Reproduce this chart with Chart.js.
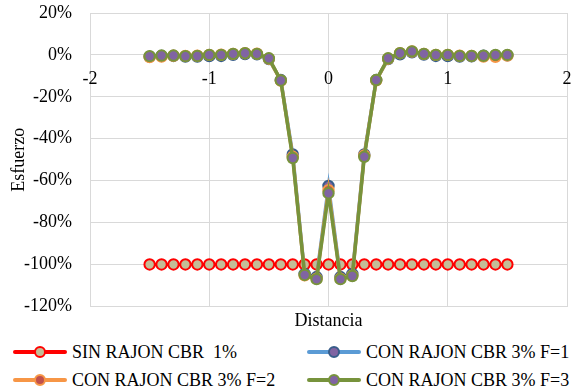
<!DOCTYPE html>
<html lang="es">
<head>
<meta charset="UTF-8">
<title>Esfuerzo vs Distancia</title>
<script src="https://cdn.jsdelivr.net/npm/chart.js"></script>
<style>
    body {
        margin: 0;
        background: #fff;
        font-family: "Liberation Serif", "Times New Roman", serif;
    }
    .wrap { position: relative; width: 576px; height: 392px; }
    .chart-box { position: absolute; left: 0; top: 0; width: 576px; height: 338px; }
    .legend { position: absolute; left: 0; top: 340px; width: 576px; height: 52px; }
    .item {
        position: absolute;
        display: flex;
        align-items: center;
        height: 24px;
        font-size: 18px;
        color: #000;
        white-space: nowrap;
    }
    .sym { position: relative; width: 54px; height: 24px; margin-right: 5px; }
    .sym .ln { position: absolute; left: 0; right: 0; top: 10px; height: 4px; border-radius: 2px; }
    .sym .dot {
        position: absolute; left: 21px; top: 6px;
        width: 8px; height: 8px; border-radius: 50%;
        border: 2px solid;
    }
</style>
</head>
<body>
<div class="wrap">
    <div class="chart-box"><canvas id="grafico" width="576" height="338"></canvas></div>
    <div class="legend" id="leyenda"></div>
</div>
<script>
    // distancia (x) y esfuerzo (%) por serie
    const distancia = [-1.5, -1.4, -1.3, -1.2, -1.1, -1.0, -0.9, -0.8, -0.7, -0.6, -0.5, -0.4, -0.3, -0.2, -0.1, 0,
                       0.1, 0.2, 0.3, 0.4, 0.5, 0.6, 0.7, 0.8, 0.9, 1.0, 1.1, 1.2, 1.3, 1.4, 1.5];
    const sinRajon = [-100, -100, -100, -100, -100, -100, -100, -100, -100, -100, -100, -100, -100, -100, -100, -100,
                      -100, -100, -100, -100, -100, -100, -100, -100, -100, -100, -100, -100, -100, -100, -100];
    const conRajonF1 = [-0.8, -0.5, -0.5, -0.8, -0.8, -0.6, -0.5, 0, 0.4, 0.3, -2, -12, -47.5, -104.5, -106, -62.5,
                        -106, -104.5, -47.5, -12, -2, 0.3, 1.2, 0.2, -0.5, -0.6, -0.8, -0.7, -0.4, -0.2, -0.2];
    const conRajonF2 = [-1, -0.8, -0.4, -0.5, -0.4, 0, 0.1, 0.5, 0.8, 0.6, -1.8, -12.3, -48.6, -105.2, -106.8, -64.5,
                        -106.8, -105.3, -48, -12.2, -1.8, 0.8, 1.6, 0.5, 0, 0, -0.4, -0.5, -0.8, -0.9, -0.3];
    const conRajonF3 = [-0.6, -0.3, -0.3, -0.6, -0.5, 0, 0, 0.5, 0.8, 0.5, -1.6, -12.2, -49.2, -105, -107, -66,
                        -107, -105.5, -48.6, -12, -1.6, 0.8, 1.7, 0.5, 0, 0, -0.5, -0.5, -0.4, 0, 0];

    const series = [
        { label: 'SIN RAJON CBR  1%', data: sinRajon, line: '#FF0000', fill: '#C4BD97', edge: '#FF0000', width: 3 },
        { label: 'CON RAJON CBR 3% F=1', data: conRajonF1, line: '#5B9BD5', fill: '#8064A2', edge: '#385D8A', width: 3.5 },
        { label: 'CON RAJON CBR 3% F=2', data: conRajonF2, line: '#F79646', fill: '#C0504D', edge: '#F79646', width: 3.5 },
        { label: 'CON RAJON CBR 3% F=3', data: conRajonF3, line: '#77933C', fill: '#8064A2', edge: '#77933C', width: 3.5 }
    ];

    const fuente = '"Liberation Serif", "Times New Roman", serif';
    Chart.defaults.font.family = fuente;
    Chart.defaults.font.size = 18;
    Chart.defaults.color = '#000';

    const grid = '#D9D9D9';

    // etiquetas del eje x escritas justo debajo de la línea del 0%
    const etiquetasX = {
        id: 'etiquetasX',
        beforeDatasetsDraw(chart) {
            const { ctx, scales: { x, y } } = chart;
            const y0 = y.getPixelForValue(0);
            ctx.save();
            ctx.font = '18px ' + fuente;
            ctx.fillStyle = '#000';
            ctx.textAlign = 'center';
            ctx.textBaseline = 'middle';
            x.ticks.forEach(t => ctx.fillText(String(t.value), x.getPixelForValue(t.value), y0 + 24));
            ctx.restore();
        }
    };

    new Chart(document.getElementById('grafico'), {
        type: 'line',
        data: {
            datasets: series.map((s, i) => ({
                label: s.label,
                data: distancia.map((x, k) => ({ x: x, y: s.data[k] })),
                borderColor: s.line,
                borderWidth: s.width,
                pointRadius: 5.2,
                pointBorderWidth: 2,
                pointBackgroundColor: s.fill,
                pointBorderColor: s.edge,
                order: series.length - i   // la última serie queda encima
            }))
        },
        options: {
            responsive: false,
            animation: false,
            layout: { padding: { top: 0, right: 9, left: 0, bottom: 0 } },
            plugins: { legend: { display: false }, tooltip: { enabled: false } },
            scales: {
                x: {
                    type: 'linear', min: -2, max: 2, position: 'bottom',
                    ticks: { display: false, stepSize: 1 },
                    grid: { color: grid, drawTicks: false },
                    border: { color: grid },
                    title: { display: true, text: 'Distancia', padding: { top: 4, bottom: 6 } }
                },
                y: {
                    min: -120, max: 20,
                    ticks: { stepSize: 20, padding: 18, callback: v => v + '%' },
                    grid: { color: grid, drawTicks: false },
                    border: { color: grid },
                    title: { display: true, text: 'Esfuerzo', padding: { top: 8, bottom: 0 } },
                    afterFit: s => {
                        s.width = 90;
                        s.paddingTop = 13;     // el padding de las etiquetas no debe empujar el área
                        s.paddingBottom = 0;
                    }
                }
            }
        },
        plugins: [etiquetasX]
    });

    // leyenda en dos columnas
    const leyenda = document.getElementById('leyenda');
    const pos = [[13, 0], [307, 0], [13, 28], [307, 28]];
    series.forEach((s, i) => {
        const it = document.createElement('div');
        it.className = 'item';
        it.style.left = pos[i][0] + 'px';
        it.style.top = pos[i][1] + 'px';
        it.innerHTML = '<div class="sym"><div class="ln" style="background:' + s.line + '"></div>' +
            '<div class="dot" style="background:' + s.fill + ';border-color:' + s.edge + '"></div></div>' +
            '<span>' + s.label.replace(/  /g, ' &nbsp;') + '</span>';
        leyenda.appendChild(it);
    });
</script>
</body>
</html>
